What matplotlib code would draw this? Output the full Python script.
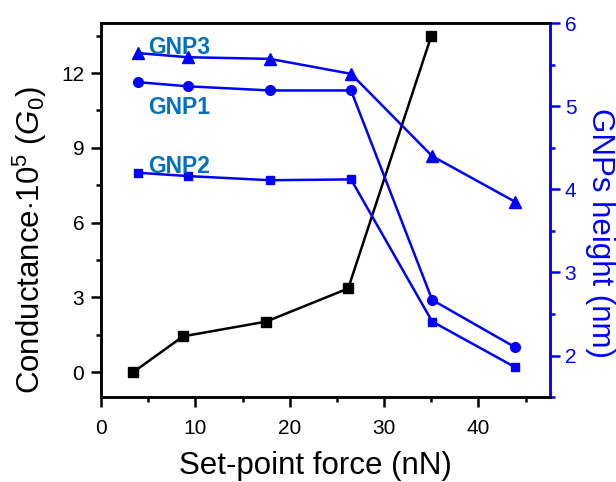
import matplotlib
matplotlib.use("Agg")
import matplotlib.pyplot as plt
from matplotlib.ticker import MultipleLocator

plt.rcParams['font.family'] = ['Liberation Sans', 'DejaVu Sans']
plt.rcParams['mathtext.fontset'] = 'custom'
plt.rcParams['mathtext.rm'] = 'Liberation Sans'
plt.rcParams['mathtext.it'] = 'Liberation Sans:italic'

# Conductance vs set-point force
force_g = [3.4, 8.7, 17.5, 26.2, 35.0]
conductance = [0.0, 1.44, 2.03, 3.36, 13.48]

# Nanoparticle heights vs set-point force
force_h = [3.9, 9.2, 17.9, 26.5, 35.1, 43.9]
gnp1 = [5.29, 5.24, 5.19, 5.19, 2.67, 2.10]
gnp2 = [4.20, 4.16, 4.11, 4.12, 2.41, 1.86]
gnp3 = [5.64, 5.59, 5.57, 5.39, 4.40, 3.85]

blue = '#0000FF'
label_blue = '#0070C0'

fig = plt.figure(figsize=(6.16, 4.82), dpi=100)
ax = fig.add_axes([0.164, 0.176, 0.729, 0.776])
ax2 = ax.twinx()

ax.plot(force_g, conductance, color='black', lw=1.8, marker='s', ms=6.5, zorder=3)
ax2.plot(force_h, gnp3, color=blue, lw=1.8, marker='^', ms=8)
ax2.plot(force_h, gnp1, color=blue, lw=1.8, marker='o', ms=7)
ax2.plot(force_h, gnp2, color=blue, lw=1.8, marker='s', ms=6)

ax.set_xlim(0, 47.6)
ax.set_ylim(-1.0, 14.0)
ax2.set_ylim(1.5, 6.0)

ax.xaxis.set_major_locator(MultipleLocator(10))
ax.xaxis.set_minor_locator(MultipleLocator(5))
ax.yaxis.set_major_locator(MultipleLocator(3))
ax.yaxis.set_minor_locator(MultipleLocator(1.5))
ax2.yaxis.set_major_locator(MultipleLocator(1))
ax2.yaxis.set_minor_locator(MultipleLocator(0.5))

for a in (ax, ax2):
    for s in a.spines.values():
        s.set_linewidth(1.8)
ax.tick_params(which='major', length=7, width=1.8, labelsize=15)
ax.tick_params(which='minor', length=3.8, width=1.8)
ax.tick_params(axis='x', which='major', pad=9)
ax.tick_params(axis='y', which='major', pad=5)
ax.tick_params(top=False, right=False)
ax2.tick_params(which='major', length=7, width=1.8, labelsize=15, colors=blue, pad=3.5)
ax2.tick_params(which='minor', length=3.8, width=1.8, colors=blue)
ax2.spines['right'].set_color(blue)
ax.spines['right'].set_color(blue)

ax.set_xlabel('Set-point force (nN)', fontsize=22.5, va='center')
ax.xaxis.set_label_coords(0.477, -0.185)
ax.set_ylabel(r'Conductance$\cdot$10$^{5}$ ($G_{0}$)', fontsize=22.5, va='center')
ax.yaxis.set_label_coords(-0.158, 0.42)
ax2.set_ylabel('GNPs height (nm)', fontsize=22.5, color=blue, rotation=270, va='center')
ax2.yaxis.set_label_coords(1.111, 0.44)

# Series labels
txt = dict(color=label_blue, fontsize=16.5, fontweight='bold', ha='left', va='center')
ax2.text(5.0, 5.71, 'GNP3', **txt)
ax2.text(5.0, 4.99, 'GNP1', **txt)
ax2.text(5.0, 4.27, 'GNP2', **txt)

fig.savefig('out.png', dpi=100)
